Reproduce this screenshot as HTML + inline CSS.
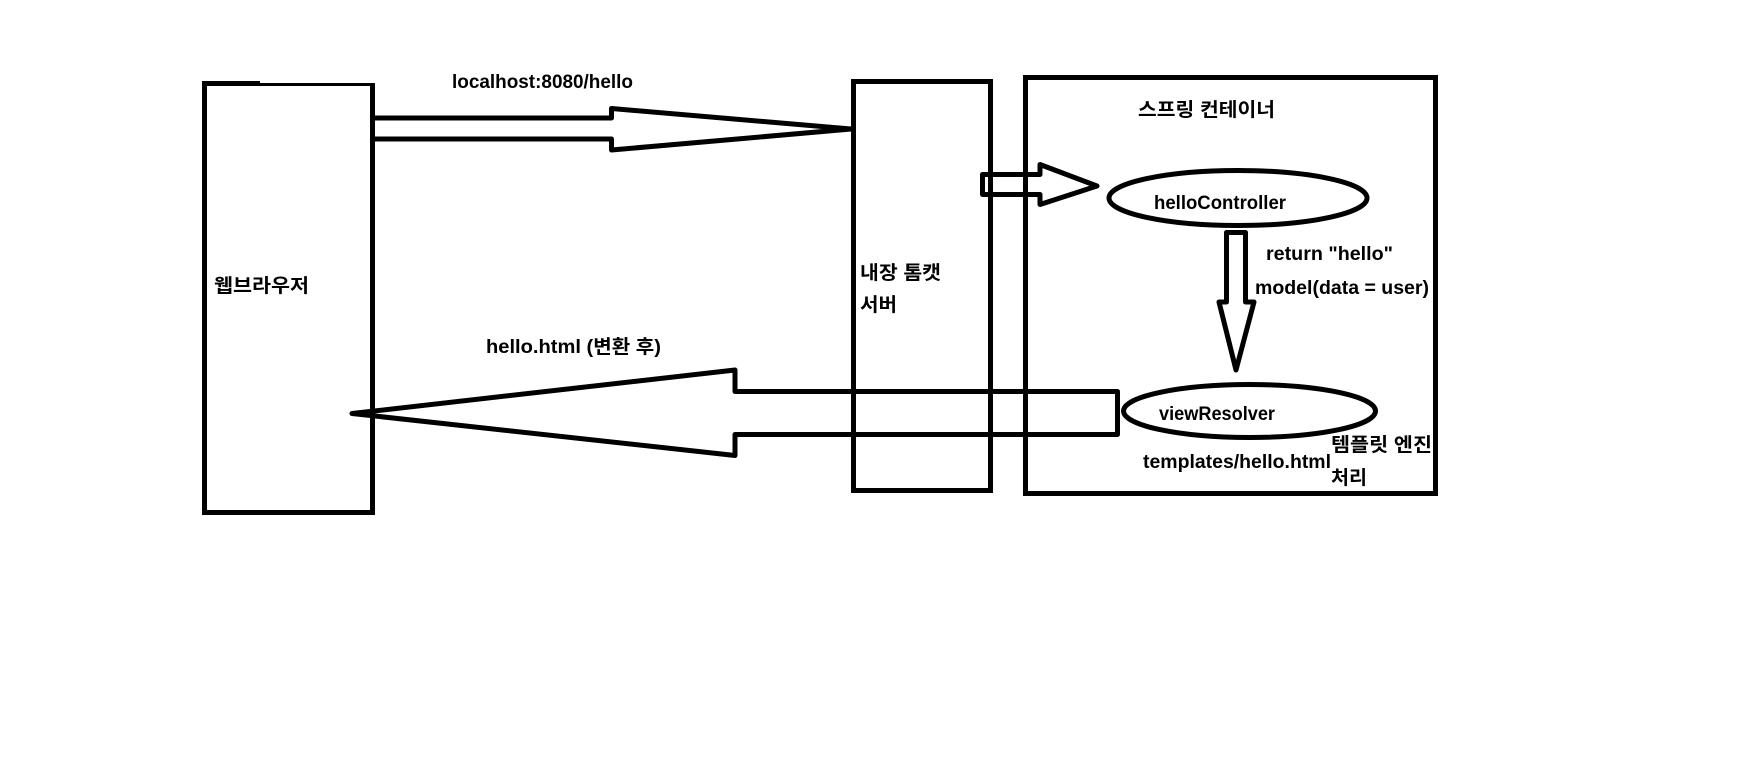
<!DOCTYPE html>
<html lang="ko">
<head>
<meta charset="utf-8">
<style>
html,body{margin:0;padding:0;background:#fff;width:1764px;height:782px;overflow:hidden}
svg{display:block}
text{font-family:"Liberation Sans","Noto Sans CJK KR",sans-serif;font-size:19px;font-weight:bold;fill:#000}
.s{fill:none;stroke:#000;stroke-width:5;stroke-linejoin:round}
.m{fill:none;stroke:#000;stroke-width:5;stroke-linejoin:miter}
</style>
</head>
<body>
<svg width="1764" height="782" viewBox="0 0 1764 782" xmlns="http://www.w3.org/2000/svg">
<rect width="1764" height="782" fill="#fff"/>
<!-- web browser box -->
<path d="M202 83H375V515H202Z M207 86V510H370V86Z" fill="#000" fill-rule="evenodd"/>
<rect x="202" y="81" width="58" height="5" fill="#000"/>
<!-- tomcat box -->
<rect class="m" x="853.5" y="81.5" width="137" height="409"/>
<!-- spring container -->
<rect class="m" x="1025.5" y="77.5" width="410" height="416"/>
<ellipse class="s" cx="1238" cy="198" rx="129" ry="27.5"/>
<ellipse class="s" cx="1249.5" cy="411" rx="126" ry="26.5"/>
<path class="s" d="M375 118H611.5V108.5L851 129L611.5 150V139H375"/>
<path class="s" d="M1117.5 391.5H735V370L352 413.5L735 455.5V434.5H1117.5Z"/>
<path class="s" d="M1040 174.5H982.5V194.5H1040V204.5L1097 186L1040 164.5Z"/>
<path class="s" d="M1226.5 232.5H1245.5V302H1254L1236 370L1219 302H1226.5Z"/>
<text x="452" y="88" textLength="181" lengthAdjust="spacingAndGlyphs">localhost:8080/hello</text>
<text x="214" y="292" textLength="95" lengthAdjust="spacingAndGlyphs">웹브라우저</text>
<text x="486" y="353" textLength="175" lengthAdjust="spacingAndGlyphs">hello.html (변환 후)</text>
<text x="860" y="279" textLength="81" lengthAdjust="spacingAndGlyphs">내장 톰캣</text>
<text x="860" y="311" textLength="37" lengthAdjust="spacingAndGlyphs">서버</text>
<text x="1138" y="116" textLength="137" lengthAdjust="spacingAndGlyphs">스프링 컨테이너</text>
<text x="1154" y="209" textLength="132" lengthAdjust="spacingAndGlyphs">helloController</text>
<text x="1266" y="260" textLength="127" lengthAdjust="spacingAndGlyphs">return "hello"</text>
<text x="1255" y="294" textLength="174" lengthAdjust="spacingAndGlyphs">model(data = user)</text>
<text x="1159" y="420" textLength="116" lengthAdjust="spacingAndGlyphs">viewResolver</text>
<text x="1143" y="468" textLength="188" lengthAdjust="spacingAndGlyphs">templates/hello.html</text>
<text x="1331" y="451" textLength="101" lengthAdjust="spacingAndGlyphs">템플릿 엔진</text>
<text x="1331" y="484" textLength="36" lengthAdjust="spacingAndGlyphs">처리</text>
</svg>
</body>
</html>
